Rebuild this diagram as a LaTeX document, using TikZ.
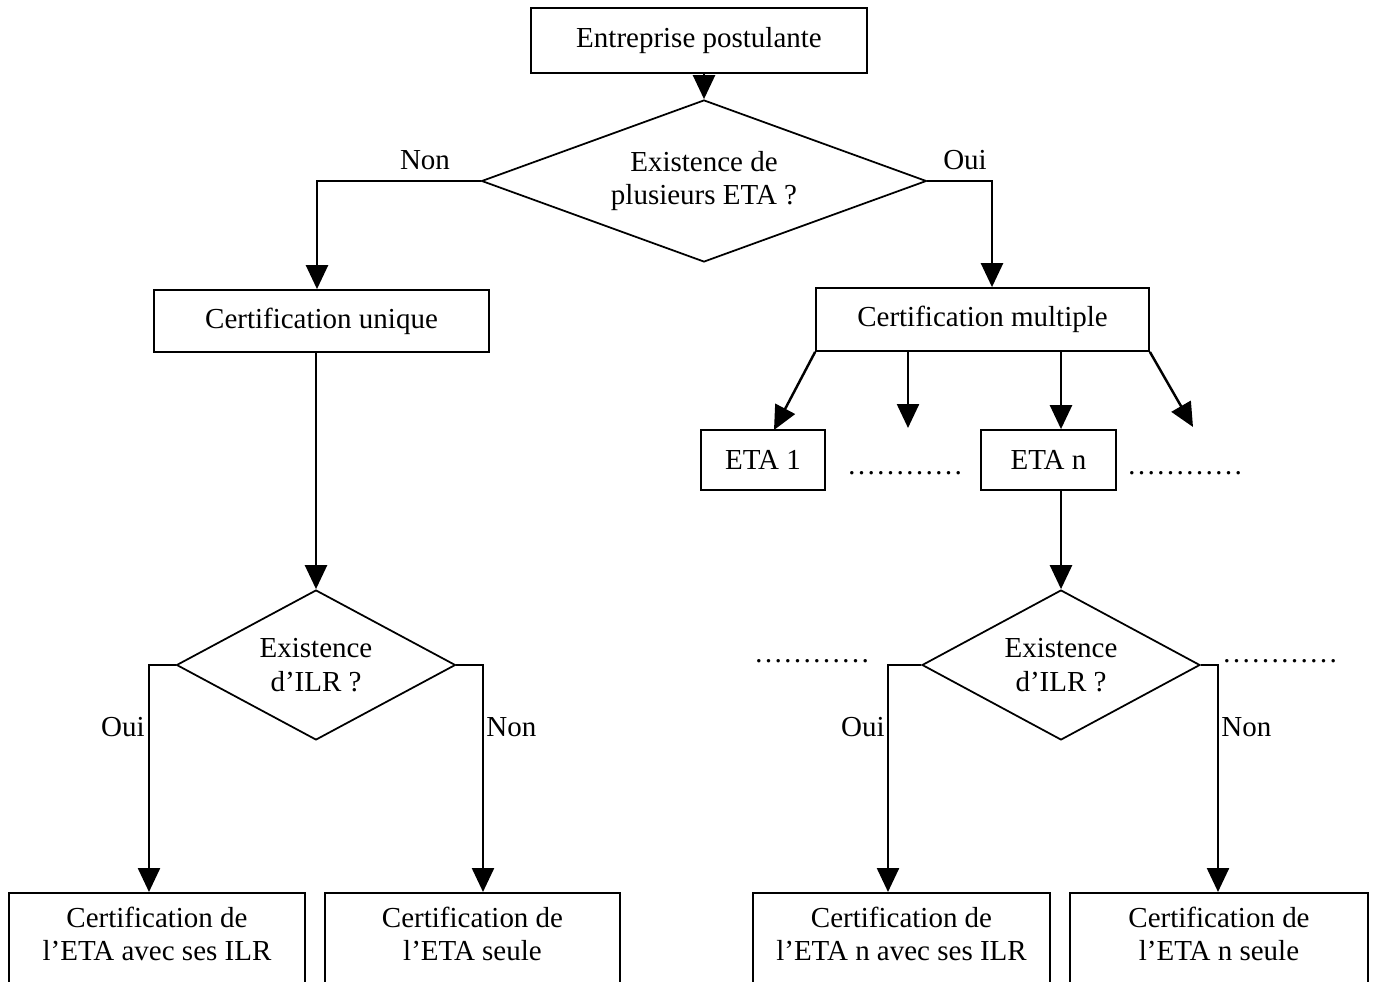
\documentclass[tikz,border=0pt]{standalone}
\usepackage{fontspec}
\setmainfont{Liberation Serif}
\usetikzlibrary{shapes.geometric,arrows.meta,calc}
\begin{document}
\begin{tikzpicture}[x=0.02cm,y=-0.02cm,
 every node/.style={font=\fontsize{16.5}{19}\selectfont},
 box/.style={draw,line width=1pt,inner sep=0pt,align=center},
 dia/.style={draw,diamond,line width=1pt,inner sep=0pt,align=center},
 arr/.style={line width=1.4pt,-{Triangle[length=0.48cm,width=0.44cm]}},
 lbl/.style={inner sep=0pt},
 txt/.style={inner sep=0pt,align=center}]
\clip (0,0) rectangle (1375,982);
% top
\node[box,minimum width=6.72cm,minimum height=1.3cm] (top) at (699,40.5) {Entreprise postulante};
\node[dia,minimum width=8.9cm,minimum height=3.24cm,shape aspect=2.75] (d1) at (704,181) {Existence de\\plusieurs ETA ?};
\draw[arr] (top.south -| d1.north) -- (d1.north);
% second level boxes
\node[box,minimum width=6.7cm,minimum height=1.24cm] (cu) at (321.5,321) {Certification unique};
\node[box,minimum width=6.66cm,minimum height=1.26cm] (cm) at (982.5,319.5) {Certification multiple};
\coordinate (xl) at (317,0);
\coordinate (xr) at (992,0);
\draw[arr] (d1.west) -| (xl |- cu.north);
\draw[arr] (d1.east) -| (xr |- cm.north);
\node[lbl] (non1) at (425,160) {Non};
\node[lbl] (oui1) at (965,160) {Oui};
% ETA boxes
\node[box,minimum width=2.48cm,minimum height=1.2cm] (eta1) at (763,460) {ETA 1};
\node[box,minimum width=2.7cm,minimum height=1.2cm] (etan) at (1048.5,460) {ETA n};
% diamonds ILR
\node[dia,minimum width=5.58cm,minimum height=3cm,shape aspect=1.86] (dl) at (316,665) {Existence\\d’ILR ?};
\node[dia,minimum width=5.56cm,minimum height=3cm,shape aspect=1.86] (dr) at (1061,665) {Existence\\d’ILR ?};
\coordinate (xa) at (908,0);
\coordinate (e1) at (774,430);
\coordinate (fa) at (908,428);
\coordinate (fb) at (1193,427);
\draw[arr] (cm.south west) -- (e1);
\draw[arr] (xa |- cm.south) -- (fa);
\draw[arr] (dr.north |- cm.south) -- (dr.north |- etan.north);
\draw[arr] (cm.south east) -- (fb);
\node[lbl,anchor=base] (dots1) at (905,475) {…………};
\node[lbl,anchor=base] (dots2) at (1185,475) {…………};
\draw[arr] (dl.north |- cu.south) -- (dl.north);
\draw[arr] (dr.north |- etan.south) -- (dr.north);
\node[lbl,anchor=base] (dots3) at (812,662) {…………};
\node[lbl,anchor=base] (dots4) at (1280,662) {…………};
% bottom boxes
\node[draw,line width=1pt,inner sep=0pt,minimum width=5.92cm,minimum height=2.4cm,anchor=north] (A) at (157,892) {};
\node[draw,line width=1pt,inner sep=0pt,minimum width=5.9cm,minimum height=2.4cm,anchor=north] (B) at (472.5,892) {};
\node[draw,line width=1pt,inner sep=0pt,minimum width=5.94cm,minimum height=2.4cm,anchor=north] (C) at (901.5,892) {};
\node[draw,line width=1pt,inner sep=0pt,minimum width=5.96cm,minimum height=2.4cm,anchor=north] (D) at (1219,892) {};
\node[txt] (At) at (157,934) {Certification de\\l’ETA avec ses ILR};
\node[txt] (Bt) at (472.5,934) {Certification de\\l’ETA seule};
\node[txt] (Ct) at (901.5,934) {Certification de\\l’ETA n avec ses ILR};
\node[txt] (Dt) at (1219,934) {Certification de\\l’ETA n seule};
\coordinate (x1) at (149,0);
\coordinate (x2) at (483,0);
\coordinate (x3) at (888,0);
\coordinate (x4) at (1218,0);
\draw[arr] (dl.west) -| (x1 |- A.north);
\draw[arr] (dl.east) -| (x2 |- B.north);
\draw[arr] (dr.west) -| (x3 |- C.north);
\draw[arr] (dr.east) -| (x4 |- D.north);
\node[lbl,anchor=east] (o2) at (145,727) {Oui};
\node[lbl,anchor=west] (n2) at (486,727) {Non};
\node[lbl,anchor=east] (o3) at (885,727) {Oui};
\node[lbl,anchor=west] (n3) at (1221,727) {Non};
\end{tikzpicture}
\end{document}
